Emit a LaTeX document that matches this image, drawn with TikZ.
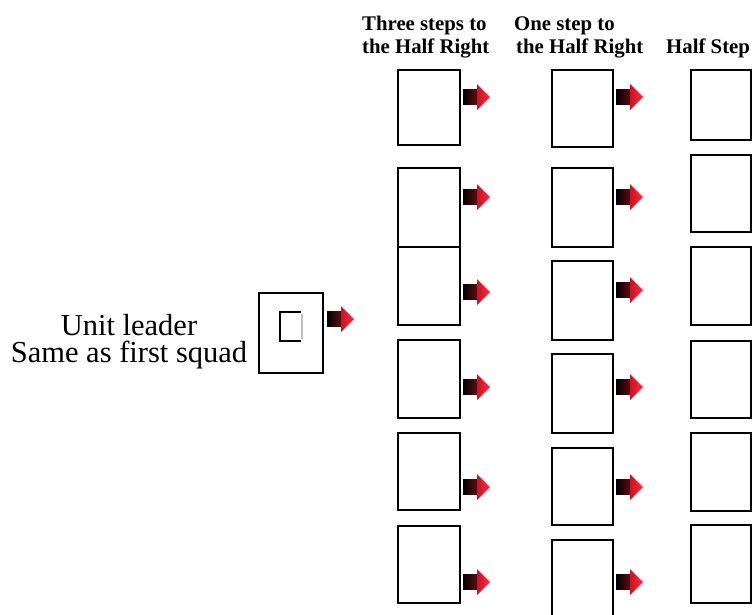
\documentclass[tikz,border=0pt]{standalone}
\usepackage{fontspec}
\setmainfont{Liberation Serif}
\definecolor{shaftend}{RGB}{105,10,18}
\definecolor{headleft}{RGB}{205,18,35}
\definecolor{headright}{RGB}{250,45,65}
\tikzset{
  sqbox/.style={draw=black, line width=2pt, inner sep=0pt, outer sep=0pt, fill=white},
  bodytext/.style={font=\fontsize{30.5}{27}\selectfont, inner sep=0pt, align=center},
  headtext/.style={font=\bfseries\fontsize{20.8}{23}\selectfont, inner sep=0pt, anchor=base west},
  redarrow/.pic={
    \shade[left color=black, right color=shaftend]
      (0,-7.5) rectangle (14.5,7.5);
    \shade[left color=headleft, right color=headright]
      (14,-13) -- (27,0) -- (14,13) -- cycle;
  }
}
\newcommand{\sqnode}[5]{%
  \node[sqbox, minimum width={(#4-#2)*1pt}, minimum height={(#5-#3)*1pt}] (#1) at ({(#2+#4)/2},{(#3+#5)/2}) {};}
\begin{document}
\begin{tikzpicture}[x=1pt,y=-1pt]
\useasboundingbox (0,0) rectangle (753,614);
% headers
\node[headtext] (h1a) at (362,30) {Three steps to};
\node[headtext] (h1b) at (362,53) {the Half Right};
\node[headtext] (h2a) at (514,30) {One step to};
\node[headtext] (h2b) at (516,53) {the Half Right};
\node[headtext] (h3) at (666,53) {Half Step};
% leader label
\node[bodytext, anchor=base] (ul) at (129,362) {Unit leader\\Same as first squad};
% leader box
\sqnode{lead}{259}{293}{323}{373}
\draw[line width=2pt] (301,312) -- (280,312) -- (280,341) -- (301,341);
\draw[line width=1.5pt, black!25] (302,314) -- (302,339);
\pic at (327,319) {redarrow};
% column 1
\sqnode{a1}{398}{70}{460}{145}
\sqnode{a2}{398}{168}{460}{247}
\sqnode{a3}{398}{247}{460}{325}
\sqnode{a4}{398}{340}{460}{418}
\sqnode{a5}{398}{433}{460}{510}
\sqnode{a6}{398}{526}{460}{603}
\foreach \y in {97,197,292,387,487,582} {\pic at (463,\y) {redarrow};}
% column 2
\sqnode{b1}{552}{70}{613}{147}
\sqnode{b2}{552}{168}{613}{247}
\sqnode{b3}{552}{261}{613}{340}
\sqnode{b4}{552}{354}{613}{433}
\sqnode{b5}{552}{448}{613}{525}
\sqnode{b6}{552}{540}{613}{620}
\foreach \y in {97,197,290,387,487,582} {\pic at (616,\y) {redarrow};}
% column 3
\sqnode{c1}{691}{70}{751}{140}
\sqnode{c2}{691}{155}{751}{232}
\sqnode{c3}{691}{247}{751}{325}
\sqnode{c4}{691}{341}{751}{418}
\sqnode{c5}{691}{433}{751}{511}
\sqnode{c6}{691}{525}{751}{603}
\end{tikzpicture}
\end{document}
